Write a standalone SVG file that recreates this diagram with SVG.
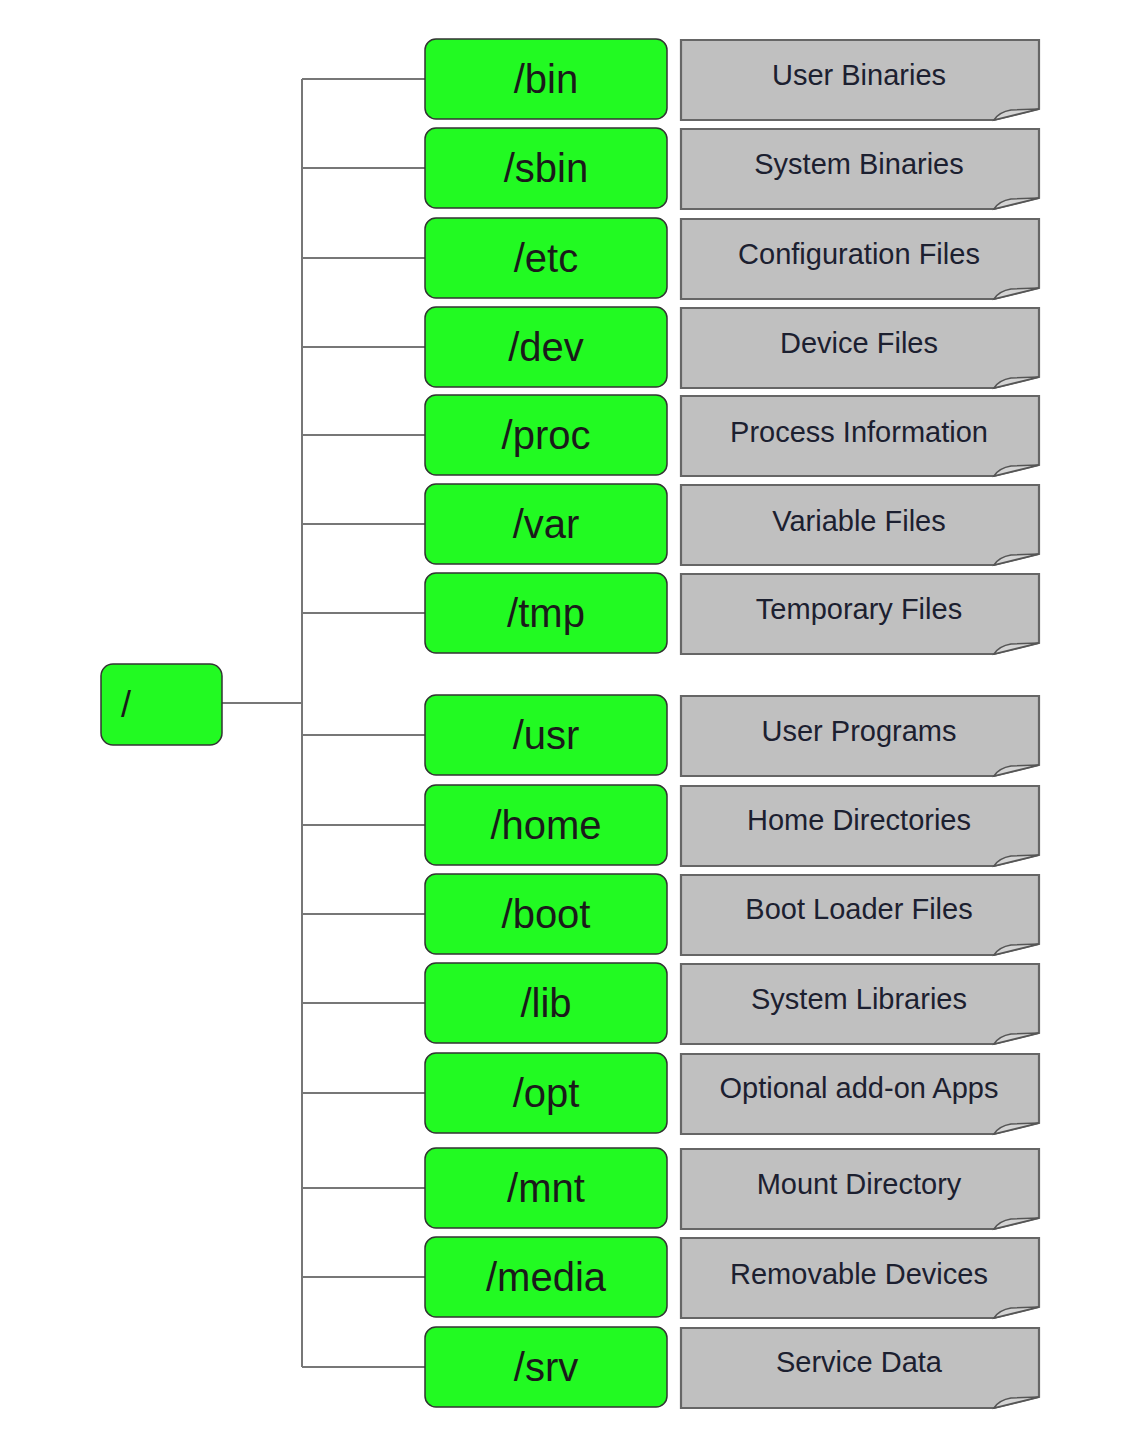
<svg xmlns="http://www.w3.org/2000/svg" width="1146" height="1440" viewBox="0 0 1146 1440">
<style>
.dir{fill:#22fa22;stroke:#333;stroke-width:1.5}
.note{fill:#c0c0c0;stroke:#666;stroke-width:2.2}
.curl{fill:#d4d4d4;stroke:#555;stroke-width:1.5}
.dt{font-family:"Liberation Sans",Arial,sans-serif;font-size:40px;fill:#1a1a1a;text-anchor:middle}
.nt{font-family:"Liberation Sans",Arial,sans-serif;font-size:29px;fill:#1c2030;text-anchor:middle}
.conn{stroke:#777;stroke-width:2;fill:none}
</style>
<defs>
<g id="notebox">
<path class="note" d="M0,0 H358 V69 L313,80 H0 Z"/>
<path class="curl" d="M313,80 Q318,72 330,70 L358,69 Z"/>
</g>
</defs>
<g id="connectors">
<path class="conn" d="M222,703 H302 M302,79 V1367 M302,79 H425 M302,168 H425 M302,258 H425 M302,347 H425 M302,435 H425 M302,524 H425 M302,613 H425 M302,735 H425 M302,825 H425 M302,914 H425 M302,1003 H425 M302,1093 H425 M302,1188 H425 M302,1277 H425 M302,1367 H425"/>
</g>
<g id="root">
<rect class="dir" x="101" y="664" width="121" height="81" rx="12"/>
<text class="dt" x="126" y="717" style="font-size:36px">/</text>
</g>
<g id="bin"><rect class="dir" x="425" y="39" width="242" height="80" rx="11"/><text class="dt" x="546" y="93">/bin</text></g>
<g id="bin-note"><use href="#notebox" x="681" y="40"/><text class="nt" x="859" y="85">User Binaries</text></g>
<g id="sbin"><rect class="dir" x="425" y="128" width="242" height="80" rx="11"/><text class="dt" x="546" y="182">/sbin</text></g>
<g id="sbin-note"><use href="#notebox" x="681" y="129"/><text class="nt" x="859" y="174">System Binaries</text></g>
<g id="etc"><rect class="dir" x="425" y="218" width="242" height="80" rx="11"/><text class="dt" x="546" y="272">/etc</text></g>
<g id="etc-note"><use href="#notebox" x="681" y="219"/><text class="nt" x="859" y="264">Configuration Files</text></g>
<g id="dev"><rect class="dir" x="425" y="307" width="242" height="80" rx="11"/><text class="dt" x="546" y="361">/dev</text></g>
<g id="dev-note"><use href="#notebox" x="681" y="308"/><text class="nt" x="859" y="353">Device Files</text></g>
<g id="proc"><rect class="dir" x="425" y="395" width="242" height="80" rx="11"/><text class="dt" x="546" y="449">/proc</text></g>
<g id="proc-note"><use href="#notebox" x="681" y="396"/><text class="nt" x="859" y="442">Process Information</text></g>
<g id="var"><rect class="dir" x="425" y="484" width="242" height="80" rx="11"/><text class="dt" x="546" y="538">/var</text></g>
<g id="var-note"><use href="#notebox" x="681" y="485"/><text class="nt" x="859" y="531">Variable Files</text></g>
<g id="tmp"><rect class="dir" x="425" y="573" width="242" height="80" rx="11"/><text class="dt" x="546" y="627">/tmp</text></g>
<g id="tmp-note"><use href="#notebox" x="681" y="574"/><text class="nt" x="859" y="619">Temporary Files</text></g>
<g id="usr"><rect class="dir" x="425" y="695" width="242" height="80" rx="11"/><text class="dt" x="546" y="749">/usr</text></g>
<g id="usr-note"><use href="#notebox" x="681" y="696"/><text class="nt" x="859" y="741">User Programs</text></g>
<g id="home"><rect class="dir" x="425" y="785" width="242" height="80" rx="11"/><text class="dt" x="546" y="839">/home</text></g>
<g id="home-note"><use href="#notebox" x="681" y="786"/><text class="nt" x="859" y="830">Home Directories</text></g>
<g id="boot"><rect class="dir" x="425" y="874" width="242" height="80" rx="11"/><text class="dt" x="546" y="928">/boot</text></g>
<g id="boot-note"><use href="#notebox" x="681" y="875"/><text class="nt" x="859" y="919">Boot Loader Files</text></g>
<g id="lib"><rect class="dir" x="425" y="963" width="242" height="80" rx="11"/><text class="dt" x="546" y="1017">/lib</text></g>
<g id="lib-note"><use href="#notebox" x="681" y="964"/><text class="nt" x="859" y="1009">System Libraries</text></g>
<g id="opt"><rect class="dir" x="425" y="1053" width="242" height="80" rx="11"/><text class="dt" x="546" y="1107">/opt</text></g>
<g id="opt-note"><use href="#notebox" x="681" y="1054"/><text class="nt" x="859" y="1098">Optional add-on Apps</text></g>
<g id="mnt"><rect class="dir" x="425" y="1148" width="242" height="80" rx="11"/><text class="dt" x="546" y="1202">/mnt</text></g>
<g id="mnt-note"><use href="#notebox" x="681" y="1149"/><text class="nt" x="859" y="1194">Mount Directory</text></g>
<g id="media"><rect class="dir" x="425" y="1237" width="242" height="80" rx="11"/><text class="dt" x="546" y="1291">/media</text></g>
<g id="media-note"><use href="#notebox" x="681" y="1238"/><text class="nt" x="859" y="1284">Removable Devices</text></g>
<g id="srv"><rect class="dir" x="425" y="1327" width="242" height="80" rx="11"/><text class="dt" x="546" y="1381">/srv</text></g>
<g id="srv-note"><use href="#notebox" x="681" y="1328"/><text class="nt" x="859" y="1372">Service Data</text></g>
</svg>
